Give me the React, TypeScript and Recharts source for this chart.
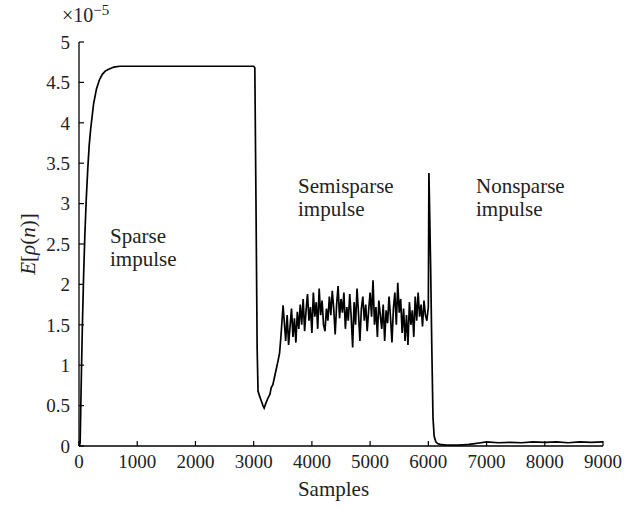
import { LineChart, Line, XAxis, YAxis } from 'recharts'

// sparse impulse: fast rise to the plateau
const sparseSamples = [0, 10, 20, 30, 40, 60, 80, 100, 125, 150, 175, 200, 250, 300, 350, 400, 450, 500, 600, 700, 800, 1000, 1500, 2000, 2500, 3000]
const sparseValues = [0, 0, 0.05, 0.45, 0.85, 1.55, 2.13, 2.6, 3.06, 3.42, 3.72, 3.92, 4.23, 4.42, 4.53, 4.6, 4.64, 4.66, 4.69, 4.7, 4.7, 4.7, 4.7, 4.7, 4.7, 4.7]

// drop after the change at 3000 and recovery
const dropSamples = [3020, 3040, 3060, 3075, 3100, 3130, 3160, 3180, 3210, 3250, 3280, 3300, 3330, 3360, 3385, 3420, 3445, 3470, 3505]
const dropValues = [4.68, 3.0, 1.2, 0.68, 0.62, 0.56, 0.5, 0.47, 0.53, 0.6, 0.64, 0.72, 0.76, 0.86, 0.94, 1.06, 1.15, 1.37, 1.74]

// semisparse impulse: noisy steady state, every 25 samples from 3525
const noiseStart = 3525
const noiseStep = 25
const noiseValues = [
  1.55, 1.3, 1.62, 1.25, 1.48, 1.7, 1.35, 1.58, 1.28, 1.66, 1.45, 1.75,
  1.5, 1.82, 1.42, 1.68, 1.88, 1.55, 1.72, 1.4, 1.9, 1.6, 1.78, 1.45,
  1.95, 1.62, 1.8, 1.5, 1.42, 1.7, 1.55, 1.85, 1.62, 1.92, 1.7, 1.38,
  1.75, 1.98, 1.58, 1.82, 1.65, 1.9, 1.45, 1.72, 1.55, 1.88, 1.6, 1.22,
  1.78, 1.5, 1.95, 1.65, 1.3, 1.7, 1.85, 1.55, 1.75, 1.42, 1.68, 1.9,
  1.6, 2.05, 1.5, 1.72, 1.35, 1.8, 1.62, 1.45, 1.75, 1.3, 1.68, 1.52,
  1.85, 1.6, 1.28, 1.7, 1.9, 1.5, 2.02, 1.65, 1.82, 1.4, 1.7, 1.3,
  1.62, 1.25, 1.78, 1.5, 1.68, 1.35, 1.85, 1.55, 1.9, 1.6, 1.75, 1.48,
  1.8, 1.62, 1.55, 1.72,
]

// nonsparse impulse: spike then near zero
const tailSamples = [6010, 6020, 6040, 6060, 6080, 6100, 6130, 6160, 6200, 6300, 6400, 6500, 6600, 6700, 6800, 6900, 7000, 7200, 7400, 7600, 7800, 8000, 8200, 8400, 8600, 8800, 9000]
const tailValues = [3.38, 3.0, 2.2, 1.2, 0.35, 0.12, 0.05, 0.03, 0.02, 0.01, 0.01, 0.01, 0.015, 0.02, 0.03, 0.04, 0.05, 0.04, 0.045, 0.04, 0.05, 0.045, 0.05, 0.04, 0.05, 0.045, 0.05]

const xTicks = [0, 1000, 2000, 3000, 4000, 5000, 6000, 7000, 8000, 9000]
const yTicks = [0, 0.5, 1, 1.5, 2, 2.5, 3, 3.5, 4, 4.5, 5]

const data = [
  ...sparseSamples.map((x, i) => ({ x, v: sparseValues[i] })),
  ...dropSamples.map((x, i) => ({ x, v: dropValues[i] })),
  ...noiseValues.map((v, i) => ({ x: noiseStart + i * noiseStep, v })),
  ...tailSamples.map((x, i) => ({ x, v: tailValues[i] })),
]

const font = 'Liberation Serif'
const tickStyle = { fontFamily: font, fontSize: 19, fill: '#222' }

const note: React.CSSProperties = {
  position: 'absolute',
  fontFamily: font,
  fontSize: 21,
  lineHeight: '23px',
  color: '#222',
}

export default function App() {
  return (
    <div style={{ position: 'absolute', left: 0, top: 0, width: 643, height: 509, background: '#fff' }}>
      <LineChart width={643} height={509} data={data} margin={{ top: 42, right: 40, bottom: 23, left: 19 }}>
        <XAxis
          type="number"
          dataKey="x"
          domain={[0, 9000]}
          ticks={xTicks}
          height={40}
          tick={tickStyle}
          tickSize={-5}
          tickMargin={14}
          axisLine={{ stroke: '#000', strokeWidth: 1.3 }}
          tickLine={{ stroke: '#000', strokeWidth: 1.2 }}
          interval={0}
        />
        <YAxis
          type="number"
          domain={[0, 5]}
          ticks={yTicks}
          width={60}
          tick={tickStyle}
          tickSize={-5}
          tickMargin={14}
          axisLine={{ stroke: '#000', strokeWidth: 1.3 }}
          tickLine={{ stroke: '#000', strokeWidth: 1.2 }}
          interval={0}
          tickFormatter={(v: number) => String(v)}
        />
        <Line type="linear" dataKey="v" stroke="#000" strokeWidth={1.7} dot={false} isAnimationActive={false} />
      </LineChart>

      <div style={{ ...note, fontSize: 20, left: 62, top: 4 }}>
        ×10<sup style={{ fontSize: 15, verticalAlign: 7, lineHeight: 0 }}>−5</sup>
      </div>
      <div style={{ ...note, left: 110, top: 225 }}>Sparse<br />impulse</div>
      <div style={{ ...note, left: 298, top: 175 }}>Semisparse<br />impulse</div>
      <div style={{ ...note, left: 476, top: 175 }}>Nonsparse<br />impulse</div>
      <div style={{ ...note, left: 0, width: 643, textAlign: 'center', top: 478, paddingLeft: 24, boxSizing: 'border-box' }}>Samples</div>
      <div
        style={{
          ...note,
          left: 28,
          top: 244,
          transform: 'translate(-50%, -50%) rotate(-90deg)',
          whiteSpace: 'nowrap',
        }}
      >
        <i>E</i>[<i>ρ</i>(<i>n</i>)]
      </div>
    </div>
  )
}
